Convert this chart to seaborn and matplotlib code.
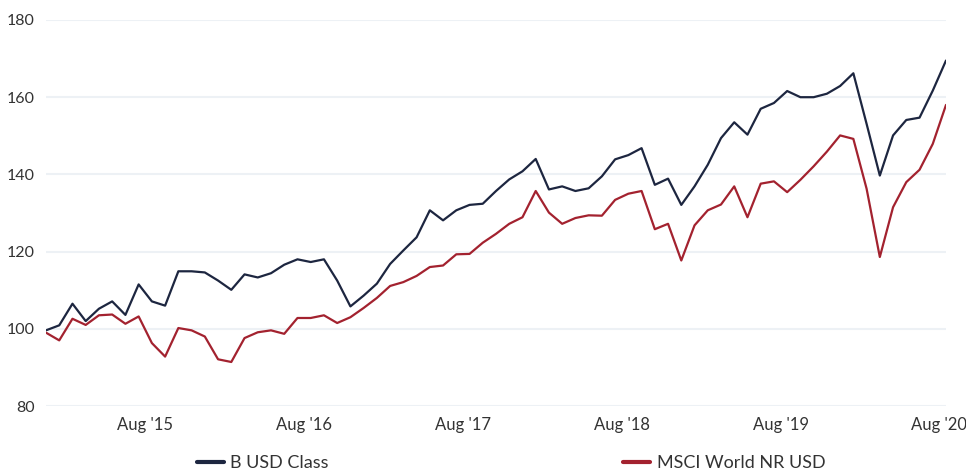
import matplotlib
matplotlib.use("Agg")
from matplotlib import pyplot as plt
import numpy as np
import pandas as pd
import seaborn as sns

# Monthly values, Dec 2014 .. Aug 2020 (rebased to 100)
b_usd_class = [
    99.6, 100.9, 106.5, 102.0, 105.2, 107.1, 103.6, 111.5, 107.1, 106.0,
    114.9, 114.9, 114.6, 112.5, 110.1, 114.1, 113.3, 114.4, 116.6, 118.0,
    117.3, 118.0, 112.5, 105.8, 108.6, 111.7, 116.8, 120.3, 123.7, 130.7,
    128.1, 130.7, 132.1, 132.4, 135.7, 138.7, 140.8, 144.0, 136.1, 136.9,
    135.7, 136.4, 139.5, 143.9, 145.0, 146.8, 137.3, 138.9, 132.1, 136.9,
    142.5, 149.4, 153.5, 150.3, 157.0, 158.5, 161.6, 160.0, 160.0, 160.9,
    162.9, 166.2, 153.1, 139.7, 150.1, 154.1, 154.7, 161.7, 169.5,
]
msci_world = [
    99.0, 97.0, 102.6, 101.0, 103.5, 103.7, 101.3, 103.2, 96.3, 92.8,
    100.2, 99.6, 98.0, 92.1, 91.4, 97.6, 99.1, 99.6, 98.7, 102.8,
    102.8, 103.5, 101.5, 103.0, 105.4, 108.0, 111.1, 112.1, 113.7, 116.0,
    116.4, 119.3, 119.4, 122.3, 124.6, 127.2, 128.9, 135.7, 130.1, 127.2,
    128.7, 129.4, 129.3, 133.4, 135.0, 135.7, 125.8, 127.2, 117.7, 126.8,
    130.7, 132.2, 136.9, 128.9, 137.6, 138.2, 135.4, 138.6, 142.1, 145.9,
    150.1, 149.2, 136.3, 118.6, 131.5, 138.0, 141.2, 147.9, 158.0,
]
series_names = ["B USD Class", "MSCI World NR USD"]
tick_labels = ["Aug '15", "Aug '16", "Aug '17", "Aug '18", "Aug '19", "Aug '20"]
colors = ["#1d2640", "#a3222f"]

months = np.arange(len(b_usd_class))
df = pd.DataFrame({
    "month": np.concatenate([months, months]),
    "value": b_usd_class + msci_world,
    "series": [series_names[0]] * len(months) + [series_names[1]] * len(months),
})

sns.set_theme(style="white")
plt.rcParams["font.family"] = ["Lato", "DejaVu Sans"]

fig = plt.figure(figsize=(9.66, 4.73), dpi=100)
ax = fig.add_axes([46 / 966, 1 - 406 / 473, 900 / 966, 386 / 473])

sns.lineplot(
    data=df, x="month", y="value", hue="series",
    palette=colors, linewidth=1.6, ax=ax, legend=False,
)

ax.set_xlim(0, len(months) - 1)
ax.set_ylim(80, 180)
ax.set_yticks([80, 100, 120, 140, 160, 180])
# Aug ticks sit half a month before the month-end point
ax.set_xticks([7.5 + 12 * i for i in range(len(tick_labels))])
ax.set_xticklabels(tick_labels)
ax.set_xlabel("")
ax.set_ylabel("")
ax.yaxis.grid(True, color="#edf1f5", linewidth=1.5)
ax.set_axisbelow(True)
for s in ax.spines.values():
    s.set_visible(False)
ax.tick_params(axis="both", length=0, labelcolor="#333333")
ax.tick_params(axis="y", pad=8, labelsize=11.5)
ax.tick_params(axis="x", pad=8, labelsize=12)

# Legend below the plot
handles = [plt.Line2D([], [], color=c, linewidth=3) for c in colors]
fig.legend(
    handles, series_names, loc="center left",
    bbox_to_anchor=(197 / 966, 1 - 463 / 473), ncol=2, frameon=False,
    fontsize=13, handlelength=1.5, handletextpad=0.35, columnspacing=16.3,
    borderpad=0, borderaxespad=0, labelcolor="#333333",
)

fig.savefig("out.png", dpi=100)
